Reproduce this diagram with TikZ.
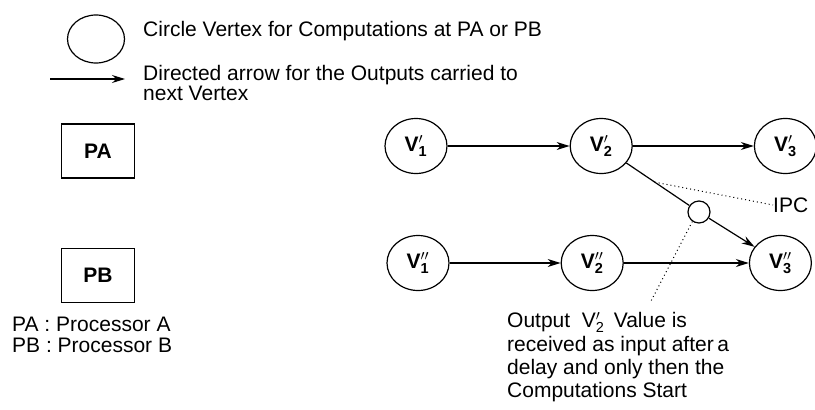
\documentclass[tikz,border=0pt]{standalone}
\usepackage{fontspec}
\setmainfont{Liberation Sans}
\usepackage{tikz}
\usetikzlibrary{positioning, shapes.geometric, arrows.meta}

\newcommand{\basefont}{\fontsize{21}{23.3}\selectfont}
\newcommand{\vlab}[2]{V$#2_{\hbox{\fontsize{14.5}{14.5}\selectfont #1}}$}

\begin{document}
\begin{tikzpicture}[
    x=1pt, y=-1pt,
    font=\basefont,
    vertex/.style={ellipse, draw, line width=1.2pt, minimum width=62pt, minimum height=55pt, inner sep=0pt, font=\basefont\bfseries},
    procbox/.style={rectangle, draw, line width=1.2pt, minimum width=73pt, minimum height=54pt, font=\basefont\bfseries},
    ipcdot/.style={circle, draw, line width=1.2pt, minimum size=22pt, inner sep=0pt},
    note/.style={inner sep=0pt, align=left},
    arrow/.style={-{Stealth[length=13pt,width=8pt]}, line width=1.2pt},
    dotline/.style={line width=1pt, dash pattern=on 1pt off 3pt}
]
\useasboundingbox (0,0) rectangle (815,410);

% legend
\node[vertex, minimum width=57pt, minimum height=48pt] (legcircle) at (96,39) {};
\node[note, anchor=base west] (legcircletext) at (143,36) {Circle Vertex for Computations at PA or PB};
\coordinate (legtail) at (50,79);
\coordinate (leghead) at (125,79);
\draw[arrow] (legtail) -- (leghead);
\node[note, anchor=north west, font=\fontsize{21}{20}\selectfont] (legarrowtext) at (143,65) {Directed arrow for the Outputs carried to\\next Vertex};

\node[procbox] (pa) at (98,151) {PA};
\node[procbox, below=69pt of pa] (pb) {PB};
\node[note, anchor=north west, font=\fontsize{21}{21}\selectfont] (proclegend) at (12,317) {PA : Processor A\\PB : Processor B};

% task graph
\node[vertex] (v1a) at (416,146) {\vlab{1}{'}};
\node[vertex, right=122pt of v1a] (v2a) {\vlab{2}{'}};
\node[vertex, right=121pt of v2a] (v3a) {\vlab{3}{'}};
\node[vertex] (v1b) at (418,263) {\vlab{1}{''}};
\node[vertex, right=111pt of v1b] (v2b) {\vlab{2}{''}};
\node[vertex, right=125pt of v2b] (v3b) {\vlab{3}{''}};

\node[ipcdot] (ipcc) at (699,212) {};
\node[note, anchor=west] (ipclab) at (773,205) {IPC};

\draw[arrow] (v1a) -- (v2a);
\draw[arrow] (v2a) -- (v3a);
\draw[line width=1.2pt] (v2a) -- coordinate[pos=0.45] (ipctap) (ipcc);
\draw[arrow] (ipcc) -- (v3b);
\draw[arrow] (v1b) -- (v2b);
\draw[arrow] (v2b) -- (v3b);

\draw[dotline] (ipctap) -- (ipclab.west);
\coordinate (delayend) at (650,303);
\draw[dotline] (ipcc.-125) -- (delayend);

\node[note, anchor=north west] (delaytext) at (507,312) {Output\hspace{0.55em}\vlab{2}{'}\hspace{0.45em}Value is\\received as input after\,a\\delay and only then the\\Computations Start};
\end{tikzpicture}
\end{document}
